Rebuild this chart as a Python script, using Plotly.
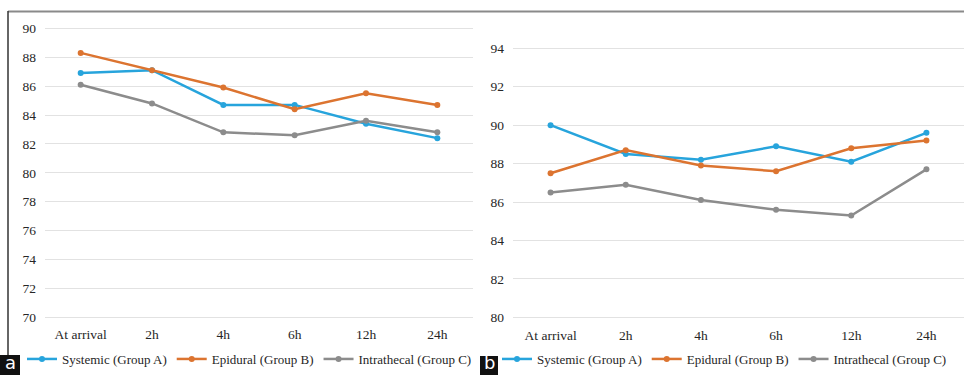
import plotly.graph_objects as go

W, H = 964, 375

categories = ["At arrival", "2h", "4h", "6h", "12h", "24h"]
series_names = ["Systemic (Group A)", "Epidural (Group B)", "Intrathecal (Group C)"]
colors = ["#27a4dc", "#dc7430", "#8c8c8c"]

panel_a_systemic = [86.9, 87.1, 84.7, 84.7, 83.4, 82.4]
panel_a_epidural = [88.3, 87.1, 85.9, 84.4, 85.5, 84.7]
panel_a_intrathecal = [86.1, 84.8, 82.8, 82.6, 83.6, 82.8]

panel_b_systemic = [90.0, 88.5, 88.2, 88.9, 88.1, 89.6]
panel_b_epidural = [87.5, 88.7, 87.9, 87.6, 88.8, 89.2]
panel_b_intrathecal = [86.5, 86.9, 86.1, 85.6, 85.3, 87.7]

panel_a_ticks = [70, 72, 74, 76, 78, 80, 82, 84, 86, 88, 90]
panel_b_ticks = [80, 82, 84, 86, 88, 90, 92, 94]


def px_x(x):
    return x / W


def px_y(y):
    return (H - y) / H


fig = go.Figure()

for vals, name, col in zip([panel_a_systemic, panel_a_epidural, panel_a_intrathecal], series_names, colors):
    fig.add_trace(go.Scatter(x=categories, y=vals, name=name, mode="lines+markers",
                             line=dict(color=col, width=2.5), marker=dict(color=col, size=6),
                             xaxis="x", yaxis="y", legend="legend"))

for vals, name, col in zip([panel_b_systemic, panel_b_epidural, panel_b_intrathecal], series_names, colors):
    fig.add_trace(go.Scatter(x=categories, y=vals, name=name, mode="lines+markers",
                             line=dict(color=col, width=2.5), marker=dict(color=col, size=6),
                             xaxis="x2", yaxis="y2", legend="legend2"))

tick_font = dict(family="Liberation Serif", size=13.5, color="#262626")
legend_font = dict(family="Liberation Serif", size=13, color="#262626")

common_x = dict(showgrid=False, showline=False, zeroline=False, ticks="", tickfont=tick_font,
                type="category", range=[-0.5, 5.5], fixedrange=True)
common_y = dict(showgrid=True, gridcolor="#e2e2e2", gridwidth=1, zeroline=False, showline=False,
                ticks="", tickfont=tick_font, ticklabelstandoff=8, fixedrange=True)

fig.update_layout(
    width=W, height=H,
    margin=dict(l=0, r=0, t=0, b=0),
    paper_bgcolor="white", plot_bgcolor="white",
    xaxis=dict(domain=[px_x(45), px_x(473)], anchor="y", **common_x),
    yaxis=dict(domain=[px_y(324.5), px_y(21.1)], anchor="x", range=[69.5, 90.5],
               tickvals=panel_a_ticks, **common_y),
    xaxis2=dict(domain=[px_x(513), 1.0], anchor="y2", **common_x),
    yaxis2=dict(domain=[px_y(325.0), px_y(40.6)], anchor="x2", range=[79.6, 94.4],
                tickvals=panel_b_ticks, **common_y),
    legend=dict(orientation="h", x=px_x(22), y=px_y(359), xanchor="left", yanchor="middle",
                font=legend_font, bgcolor="rgba(0,0,0,0)", itemwidth=30),
    legend2=dict(orientation="h", x=px_x(497), y=px_y(359), xanchor="left", yanchor="middle",
                 font=legend_font, bgcolor="rgba(0,0,0,0)", itemwidth=30),
    shapes=[
        dict(type="line", xref="paper", yref="paper", x0=px_x(8), x1=1.0, y0=px_y(11.5), y1=px_y(11.5),
             line=dict(color="#8a8a8a", width=2)),
        dict(type="line", xref="paper", yref="paper", x0=px_x(8), x1=px_x(8), y0=px_y(11), y1=px_y(356),
             line=dict(color="#333333", width=1.5)),
        dict(type="rect", xref="paper", yref="paper", x0=0, x1=px_x(20), y0=0, y1=px_y(355),
             fillcolor="#111111", line=dict(width=0)),
        dict(type="rect", xref="paper", yref="paper", x0=px_x(480), x1=px_x(498), y0=0, y1=px_y(356),
             fillcolor="#111111", line=dict(width=0)),
    ],
    annotations=[
        dict(text="a", xref="paper", yref="paper", x=px_x(10), y=px_y(374.5), showarrow=False,
             font=dict(family="DejaVu Sans", size=18, color="white"), xanchor="center", yanchor="bottom"),
        dict(text="b", xref="paper", yref="paper", x=px_x(489), y=px_y(374.5), showarrow=False,
             font=dict(family="DejaVu Sans", size=18, color="white"), xanchor="center", yanchor="bottom"),
    ],
)

fig.write_html("out.html", config={"displayModeBar": False},
               post_script="document.body.style.margin='0';document.body.style.overflow='hidden';")
